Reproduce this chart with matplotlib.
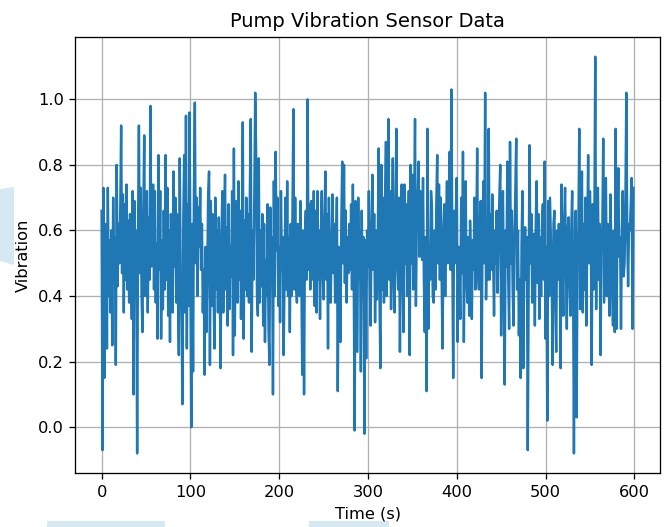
import numpy as np
import matplotlib
matplotlib.use("Agg")
import matplotlib.pyplot as plt
from matplotlib.patches import Polygon, Rectangle

# vibration readings, one per second (0..599)
vib_rows = [
    [0.66, -0.07, 0.73, 0.15, 0.45, 0.62, 0.24, 0.73, 0.40, 0.57, 0.35, 0.60, 0.25, 0.70, 0.44, 0.58, 0.19, 0.80, 0.43, 0.62],
    [0.50, 0.66, 0.92, 0.47, 0.71, 0.35, 0.68, 0.45, 0.74, 0.42, 0.63, 0.38, 0.65, 0.50, 0.33, 0.72, 0.10, 0.69, 0.43, 0.60],
    [-0.08, 0.60, 0.92, 0.47, 0.73, 0.40, 0.29, 0.66, 0.89, 0.40, 0.62, 0.72, 0.35, 0.64, 0.45, 0.98, 0.49, 0.66, 0.74, 0.42],
    [0.72, 0.38, 0.56, 0.27, 0.83, 0.48, 0.72, 0.27, 0.57, 0.36, 0.66, 0.42, 0.83, 0.45, 0.73, 0.34, 0.60, 0.26, 0.65, 0.48],
    [0.35, 0.78, 0.49, 0.70, 0.38, 0.65, 0.40, 0.22, 0.82, 0.45, 0.38, 0.07, 0.63, 0.83, 0.35, 0.95, 0.24, 0.68, 0.37, 0.96],
    [0.45, 0.00, 0.62, 0.17, 0.72, 0.99, 0.50, 0.70, 0.40, 0.67, 0.55, 0.73, 0.48, 0.62, 0.35, 0.48, 0.16, 0.55, 0.29, 0.47],
    [0.70, 0.78, 0.19, 0.69, 0.37, 0.65, 0.46, 0.24, 0.70, 0.42, 0.60, 0.35, 0.64, 0.45, 0.18, 0.58, 0.72, 0.35, 0.60, 0.77],
    [0.42, 0.61, 0.31, 0.68, 0.36, 0.55, 0.46, 0.72, 0.22, 0.85, 0.28, 0.60, 0.69, 0.38, 0.75, 0.45, 0.66, 0.33, 0.60, 0.93],
    [0.27, 0.63, 0.42, 0.70, 0.40, 0.65, 0.38, 0.72, 0.94, 0.23, 0.60, 0.45, 0.70, 1.02, 0.84, 0.40, 0.34, 0.82, 0.38, 0.60],
    [0.43, 0.65, 0.31, 0.62, 0.26, 0.51, 0.40, 0.68, 0.30, 0.19, 0.67, 0.45, 0.58, 0.10, 0.75, 0.40, 0.84, 0.54, 0.70, 0.37],
    [0.55, 0.32, 0.72, 0.48, 0.58, 0.22, 0.45, 0.70, 0.42, 0.75, 0.40, 0.58, 0.29, 0.62, 0.40, 0.66, 0.97, 0.42, 0.70, 0.44],
    [0.38, 0.62, 0.55, 0.40, 0.69, 0.46, 0.16, 0.60, 0.10, 0.58, 0.66, 0.45, 1.00, 0.48, 0.68, 0.42, 0.69, 0.58, 0.45, 0.72],
    [0.37, 0.66, 0.35, 0.72, 0.45, 0.60, 0.33, 0.60, 0.72, 0.48, 0.39, 0.62, 0.78, 0.45, 0.65, 0.24, 0.70, 0.45, 0.38, 0.56],
    [0.71, 0.47, 0.62, 0.38, 0.55, 0.70, 0.11, 0.55, 0.42, 0.26, 0.62, 0.81, 0.50, 0.80, 0.44, 0.66, 0.38, 0.58, 0.47, 0.62],
    [0.48, 0.68, 0.42, 0.74, 0.45, -0.01, 0.69, 0.45, 0.23, 0.70, 0.45, 0.60, 0.17, 0.66, 0.40, 0.58, -0.02, 0.57, 0.21, 0.60],
    [0.49, 0.72, 0.45, 0.31, 0.60, 0.77, 0.48, 0.65, 0.32, 0.60, 0.39, 0.55, 0.85, 0.40, 0.18, 0.80, 0.42, 0.70, 0.38, 0.62],
    [0.87, 0.40, 0.60, 0.94, 0.45, 0.72, 0.36, 0.60, 0.82, 0.45, 0.35, 0.66, 0.91, 0.50, 0.42, 0.70, 0.23, 0.55, 0.74, 0.48],
    [0.29, 0.74, 0.50, 0.68, 0.40, 0.55, 0.72, 0.22, 0.80, 0.50, 0.77, 0.42, 0.65, 0.94, 0.37, 0.62, 0.70, 0.81, 0.52, 0.72],
    [0.60, 0.51, 0.76, 0.45, 0.29, 0.58, 0.11, 0.91, 0.30, 0.55, 0.45, 0.72, 0.67, 0.40, 0.38, 0.60, 0.42, 0.68, 0.83, 0.50],
    [0.74, 0.45, 0.70, 0.45, 0.24, 0.60, 0.68, 0.40, 0.62, 0.75, 0.50, 0.62, 0.84, 0.48, 1.03, 0.55, 0.15, 0.66, 0.50, 0.65],
    [0.76, 0.26, 0.55, 0.49, 0.33, 0.70, 0.47, 0.84, 0.26, 0.55, 0.75, 0.45, 0.38, 0.58, 0.34, 0.63, 0.50, 0.33, 0.57, 0.48],
    [0.70, 0.42, 0.55, 0.85, 0.47, 0.42, 0.62, 0.69, 0.15, 0.58, 0.75, 0.50, 1.02, 0.39, 0.62, 0.45, 0.91, 0.45, 0.65, 0.48],
    [0.71, 0.52, 0.34, 0.60, 0.50, 0.66, 0.41, 0.58, 0.70, 0.80, 0.28, 0.55, 0.72, 0.45, 0.13, 0.60, 0.49, 0.81, 0.45, 0.30],
    [0.87, 0.50, 0.66, 0.42, 0.31, 0.58, 0.72, 0.88, 0.42, 0.60, 0.28, 0.45, 0.15, 0.56, 0.72, 0.18, 0.50, 0.61, 0.45, 0.58],
    [-0.07, 0.45, 0.86, 0.50, 0.65, 0.38, 0.55, 0.59, 0.31, 0.62, 0.75, 0.44, 0.65, 0.33, 0.58, 0.40, 0.62, 0.68, 0.45, 0.81],
    [0.27, 0.55, 0.02, 0.69, 0.40, 0.70, 0.58, 0.45, 0.19, 0.62, 0.66, 0.40, 0.23, 0.60, 0.45, 0.62, 0.52, 0.18, 0.74, 0.50],
    [0.34, 0.62, 0.73, 0.50, 0.30, 0.60, 0.64, 0.45, 0.34, 0.60, 0.72, 0.48, -0.08, 0.50, 0.66, 0.03, 0.52, 0.60, 0.91, 0.36],
    [0.55, 0.78, 0.35, 0.62, 0.42, 0.70, 0.31, 0.58, 0.83, 0.50, 0.72, 0.60, 0.19, 0.68, 0.42, 0.60, 1.13, 0.36, 0.66, 0.73],
    [0.45, 0.62, 0.22, 0.58, 0.61, 0.88, 0.38, 0.56, 0.76, 0.40, 0.62, 0.45, 0.34, 0.71, 0.58, 0.42, 0.31, 0.60, 0.29, 0.91],
    [0.30, 0.65, 0.79, 0.52, 0.58, 0.30, 0.60, 0.72, 0.46, 0.50, 0.69, 1.02, 0.60, 0.43, 0.62, 0.60, 0.68, 0.76, 0.30, 0.73],
]
vibration = np.concatenate([np.array(r) for r in vib_rows])
time_s = np.arange(len(vibration))

# the reference looks like a default figure shown a bit enlarged
DPI = 117
fig = plt.figure(figsize=(664 / DPI, 527 / DPI), dpi=DPI)
ax = fig.add_axes([0.113, 0.102, 0.881, 0.828])

ax.plot(time_s, vibration)
ax.set_title('Pump Vibration Sensor Data')
ax.set_xlabel('Time (s)')
ax.set_ylabel('Vibration')
ax.grid(True)

# faint light-blue shapes behind the chart in the screenshot
shade = '#d6e8f1'
fig.add_artist(Polygon([(0, 1 - 189 / 527), (14 / 664, 1 - 187 / 527),
                        (14 / 664, 1 - 265 / 527), (0, 1 - 261 / 527)],
                       closed=True, transform=fig.transFigure,
                       facecolor=shade, edgecolor='none', zorder=-1))
for x0, x1 in [(47, 165), (309, 389)]:
    fig.add_artist(Rectangle((x0 / 664, 0), (x1 - x0) / 664, 6 / 527,
                             transform=fig.transFigure, facecolor=shade,
                             edgecolor='none', zorder=-1))

fig.savefig('out.png', dpi=DPI)
